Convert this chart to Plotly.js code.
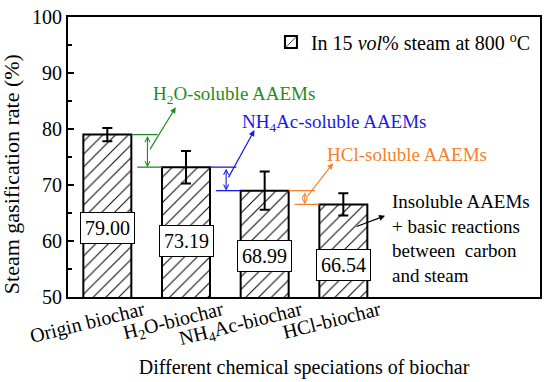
<!DOCTYPE html>
<html>
<head>
<meta charset="utf-8">
<script src="https://cdn.plot.ly/plotly-3.0.1.min.js"></script>
<style>html,body{margin:0;padding:0;background:#fff;}#chart{width:550px;height:382px;}</style>
</head>
<body>
<div id="chart"></div>
<script>
// ---- data ----
const categories = ['Origin biochar', 'H<sub>2</sub>O-biochar', 'NH<sub>4</sub>Ac-biochar', 'HCl-biochar'];
const rates = [79.00, 73.19, 68.99, 66.54];
const errors = [1.2, 2.9, 3.4, 2.0];
const fractionLabels = ['H<sub>2</sub>O-soluble AAEMs', 'NH<sub>4</sub>Ac-soluble AAEMs', 'HCl-soluble AAEMs'];
const residualLabel = 'Insoluble AAEMs<br>+ basic reactions<br>between  carbon<br>and steam';
const seriesName = 'In 15 <i>vol</i>% steam at 800 <sup>o</sup>C';
const yTicks = [50, 60, 70, 80, 90, 100];

// ---- styling / placement ----
const FONT = "'Liberation Serif', 'Times New Roman', serif";
const fracColors = ['#1f8c1f', '#1a1ae6', '#f5822a'];
const barW = 0.61, half = barW / 2;
const valueBoxY = [62.3, 60.0, 57.3, 55.7];
const calloutHeadY = [83.9, 79.8, 73.9];
const calloutText = [[0.555, 86.1], [1.686, 81.1], [2.767, 75.4]];

const trace = {
  type: 'bar', x: categories, y: rates, width: barW, name: seriesName,
  marker: {color: 'white', line: {color: 'black', width: 2},
           pattern: {shape: '/', fgcolor: 'black', bgcolor: 'white', size: 9, solidity: 0.11}},
  error_y: {type: 'data', array: errors, visible: true, color: 'black', thickness: 2, width: 5},
  showlegend: true
};

const shapes = [];
const annotations = [];
// value boxes
rates.forEach((v, i) => {
  annotations.push({x: i, y: valueBoxY[i], xref: 'x', yref: 'y', text: v.toFixed(2), showarrow: false,
    font: {family: FONT, size: 20, color: 'black'}, bgcolor: 'white', bordercolor: 'black',
    borderwidth: 1, borderpad: 4});
});
// fraction callouts
for (let i = 0; i < 3; i++) {
  const c = fracColors[i];
  const hi = rates[i], lo = rates[i + 1];
  shapes.push({type: 'line', xref: 'x', yref: 'y', x0: i + half, x1: i + 0.64, y0: hi, y1: hi, line: {color: c, width: 1.3}});
  shapes.push({type: 'line', xref: 'x', yref: 'y', x0: i + 0.38, x1: i + 1 - half, y0: lo, y1: lo, line: {color: c, width: 1.3}});
  annotations.push({x: i + 0.51, y: lo, ax: i + 0.51, ay: hi, xref: 'x', yref: 'y', axref: 'x', ayref: 'y',
    text: '', showarrow: true, arrowside: 'end+start', arrowhead: 5, startarrowhead: 5,
    arrowsize: 0.9, startarrowsize: 0.9, arrowwidth: 1.1, arrowcolor: c, standoff: 0, startstandoff: 0});
  annotations.push({x: i + 0.87, y: calloutHeadY[i], ax: i + 0.53, ay: (hi + lo) / 2, xref: 'x', yref: 'y',
    axref: 'x', ayref: 'y', text: '', showarrow: true, arrowhead: 2, arrowsize: 1, arrowwidth: 1.2, arrowcolor: c});
  annotations.push({x: calloutText[i][0], y: calloutText[i][1], xref: 'x', yref: 'y', xanchor: 'left', yanchor: 'middle',
    text: fractionLabels[i], showarrow: false, font: {family: FONT, size: 19, color: c}});
}
// residual callout
annotations.push({x: 3.53, y: 64.5, ax: 3.15, ay: 62.5, xref: 'x', yref: 'y', axref: 'x', ayref: 'y',
  text: '', showarrow: true, arrowhead: 2, arrowsize: 1, arrowwidth: 1.2, arrowcolor: 'black'});
annotations.push({x: 3.593, y: 60.45, xref: 'x', yref: 'y', xanchor: 'left', yanchor: 'middle', align: 'left',
  text: residualLabel, showarrow: false, font: {family: FONT, size: 19, color: 'black'}});
// y-axis title
annotations.push({x: -0.12, y: 0.44, xref: 'paper', yref: 'paper', xanchor: 'center', yanchor: 'middle', textangle: -90,
  text: 'Steam gasification rate (%)', showarrow: false, font: {family: FONT, size: 22, color: 'black'}});

const layout = {
  width: 550, height: 382,
  margin: {l: 68, r: 10, t: 17, b: 85},
  paper_bgcolor: 'white', plot_bgcolor: 'white',
  font: {family: FONT, size: 20, color: 'black'},
  showlegend: true,
  legend: {x: 0.43, y: 0.98, xanchor: 'left', yanchor: 'top', bgcolor: 'rgba(0,0,0,0)',
           font: {family: FONT, size: 20, color: 'black'}},
  xaxis: {type: 'category', range: [-0.5, 5.5], showline: true, linecolor: 'black', linewidth: 2, mirror: true,
          ticks: '', tickangle: -14, ticklabelshift: 36, ticklabelstandoff: -8, showgrid: false, zeroline: false,
          tickfont: {family: FONT, size: 20, color: 'black'},
          title: {text: 'Different chemical speciations of biochar', font: {family: FONT, size: 20, color: 'black'}, standoff: 9}},
  yaxis: {range: [50, 100], tickvals: yTicks, showline: true, linecolor: 'black', linewidth: 2, mirror: true,
          ticks: 'inside', ticklen: 6, tickwidth: 1.5, tickcolor: 'black', showgrid: false, zeroline: false,
          minor: {dtick: 5, ticks: 'inside', ticklen: 4, tickwidth: 1.5, tickcolor: 'black'},
          tickfont: {family: FONT, size: 20, color: 'black'}},
  shapes: shapes, annotations: annotations
};

Plotly.newPlot('chart', [trace], layout, {displayModeBar: false, staticPlot: true});
</script>
</body>
</html>
